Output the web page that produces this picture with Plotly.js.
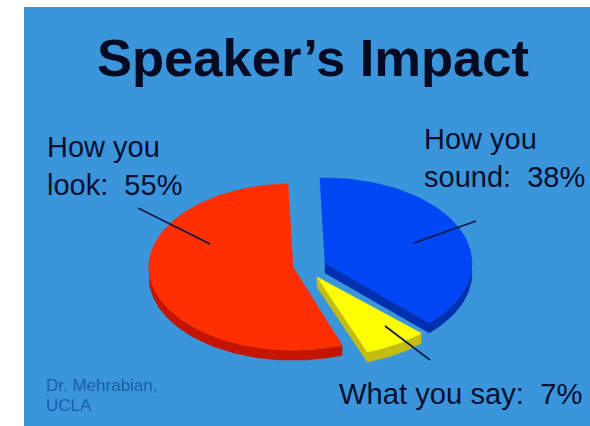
<!DOCTYPE html>
<html>
<head>
<meta charset="utf-8">
<script src="https://cdn.plot.ly/plotly-3.0.0.min.js"></script>
<style>html,body{margin:0;padding:0;background:#fff;overflow:hidden}#c{width:590px;height:426px}</style>
</head>
<body>
<div id="c"></div>
<script>
// ---- data ----
var sliceNames  = ["How you sound", "What you say", "How you look"];
var sliceValues = [38, 7, 55];

// ---- styling / geometry (not data) ----
var topColors  = ["#0046F5", "#FFFF00", "#FF2E00"];
var sideColors = ["#0030B0", "#C4BC10", "#C41400"];
var W = 590, H = 426, L = 24, T = 7;
var RX = 147, RY = 85, CX = 309, CY = 265, DEPTH = 10;
var startDeg = -2;
var offsets = [[16, -2], [8, 12], [-16, 2]];      // explosion, px
var xScale  = [1, 1, 0.98];
var yScale  = [1, 0.94, 0.98];

function arc(i, a0, a1) {
  var pts = [], n = Math.max(2, Math.round(Math.abs(a1 - a0) / 2));
  for (var k = 0; k <= n; k++) {
    var t = (a0 + (a1 - a0) * k / n) * Math.PI / 180;
    pts.push([offsets[i][0] / RX + xScale[i] * Math.sin(t), -offsets[i][1] / RY + yScale[i] * Math.cos(t)]);
  }
  return pts;
}
function apex(i) { return [offsets[i][0] / RX, -offsets[i][1] / RY]; }
function poly(pts, color, name) {
  return {type: "scatter", mode: "lines", x: pts.map(function (p) { return p[0]; }),
    y: pts.map(function (p) { return p[1]; }), fill: "toself", fillcolor: color,
    line: {width: 0.5, color: color}, hoverinfo: "text", text: name, showlegend: false};
}
function sweep(edge) {
  var d = DEPTH / RY;
  return edge.concat(edge.slice().reverse().map(function (p) { return [p[0], p[1] - d]; }));
}

// slice angles from the values
var total = sliceValues.reduce(function (a, b) { return a + b; }, 0);
var angle = startDeg, spans = sliceValues.map(function (v) {
  var s = [angle, angle + v / total * 360]; angle = s[1]; return s;
});

// draw order: red, blue, yellow
var traces = [];
[2, 0, 1].forEach(function (i) {
  var a0 = spans[i][0], a1 = spans[i][1], edge;
  if (i === 0) edge = arc(i, 90, a1).concat([apex(i)]);
  else if (i === 1) edge = arc(i, a0, a1).concat([apex(i)]);
  else edge = arc(i, a0, 275);
  traces.push(poly(sweep(edge), sideColors[i], sliceNames[i]));
  traces.push(poly([apex(i)].concat(arc(i, a0, a1)).concat([apex(i)]), topColors[i], sliceNames[i]));
});

function px(x) { return (x - L) / (W - L); }
function py(y) { return 1 - (y - T) / (H - T); }
var ink = "#06102E";
function note(text, x, y, size, color, bold) {
  return {text: bold ? "<b>" + text + "</b>" : text, xref: "paper", yref: "paper", x: px(x), y: py(y),
    xanchor: "left", yanchor: "middle", showarrow: false,
    font: {family: "Liberation Sans, Arial, sans-serif", size: size, color: color}};
}
function leader(x0, y0, x1, y1) {
  return {type: "line", xref: "paper", yref: "paper", x0: px(x0), y0: py(y0), x1: px(x1), y1: py(y1),
    line: {color: "#0A1A48", width: 1.6}};
}

var layout = {
  width: W, height: H,
  margin: {l: L, r: 0, t: T, b: 0},
  paper_bgcolor: "#FFFFFF", plot_bgcolor: "#3A95DB",
  showlegend: false,
  xaxis: {visible: false, fixedrange: true, range: [(L - CX) / RX, (W - CX) / RX]},
  yaxis: {visible: false, fixedrange: true, range: [(CY - H) / RY, (CY - T) / RY]},
  annotations: [
    note("Speaker’s Impact", 95, 57, 52.5, "#030A22", true),
    note("How you", 45, 147, 29, ink),
    note("look:  55%", 45, 185, 29, ink),
    note("How you", 422, 139, 29, ink),
    note("sound:  38%", 422, 177, 29, ink),
    note("What you say:  7%", 337, 394, 29.2, ink),
    note("Dr. Mehrabian,", 44, 385, 17, "#1B5EA8"),
    note("UCLA", 44, 405, 17, "#1B5EA8")
  ],
  shapes: [
    leader(138, 208, 210, 244),
    leader(476, 221, 414, 243),
    leader(385, 326, 430, 360)
  ]
};
Plotly.newPlot("c", traces, layout, {displayModeBar: false, staticPlot: true});
</script>
</body>
</html>
